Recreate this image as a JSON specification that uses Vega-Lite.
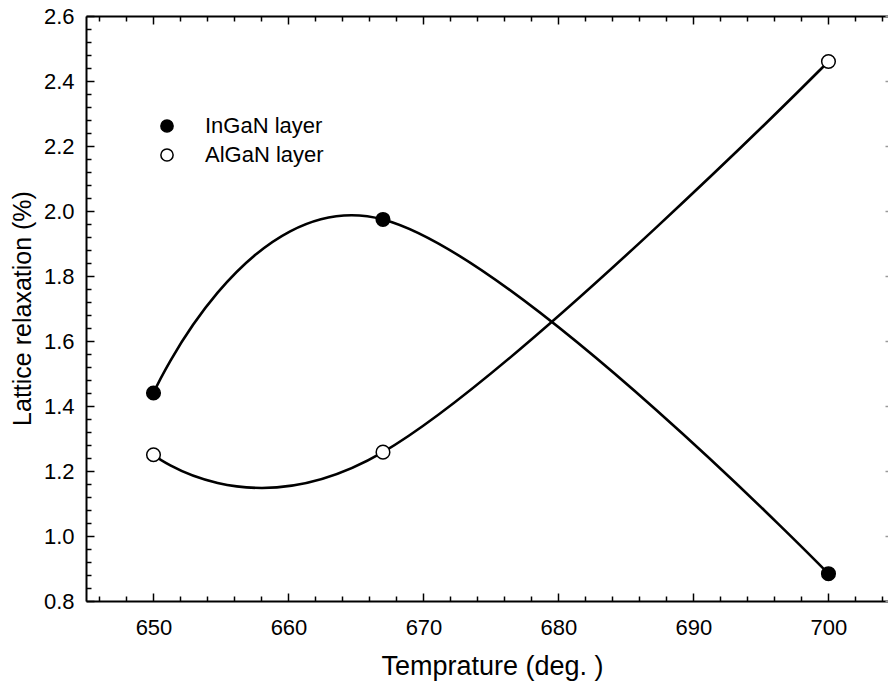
{
  "$schema": "https://vega.github.io/schema/vega-lite/v6.json",
  "autosize": "none",
  "width": 802,
  "height": 585,
  "padding": {"left": 86, "top": 16, "right": 0, "bottom": 80},
  "background": "white",
  "config": {
    "view": {"stroke": null},
    "font": "Liberation Sans",
    "axis": {
      "grid": false,
      "domainColor": "black",
      "domainWidth": 2,
      "tickColor": "black",
      "tickWidth": 1.5,
      "labelColor": "black",
      "titleColor": "black",
      "labelFont": "Liberation Sans",
      "titleFont": "Liberation Sans",
      "titleFontWeight": "normal",
      "labelFontSize": 22,
      "titleFontSize": 25
    },
    "legend": {"labelFont": "Liberation Sans"}
  },
  "data": {
    "values": [
      {"t": 650, "v": 1.44, "s": "InGaN layer"},
      {"t": 667, "v": 1.974, "s": "InGaN layer"},
      {"t": 700, "v": 0.884, "s": "InGaN layer"},
      {"t": 650, "v": 1.25, "s": "AlGaN layer"},
      {"t": 667, "v": 1.258, "s": "AlGaN layer"},
      {"t": 700, "v": 2.46, "s": "AlGaN layer"}
    ]
  },
  "resolve": {"axis": {"x": "independent", "y": "independent"}},
  "layer": [
    {
      "mark": {"type": "line", "interpolate": "cardinal", "tension": -0.2, "color": "black", "strokeWidth": 2.6},
      "encoding": {
        "x": {"field": "t", "type": "quantitative", "scale": {"domain": [645, 704.41], "nice": false, "zero": false},
          "axis": {"orient": "bottom", "values": [650, 660, 670, 680, 690, 700], "tickSize": -8, "labelPadding": 24, "title": "Temprature (deg. )", "titleFontSize": 27, "titleBaseline": "alphabetic", "titleAlign": "center", "titleX": 406, "titleY": 73}},
        "y": {"field": "v", "type": "quantitative", "scale": {"domain": [0.8, 2.6], "nice": false, "zero": false},
          "axis": {"orient": "left", "values": [0.8, 1.0, 1.2, 1.4, 1.6, 1.8, 2.0, 2.2, 2.4, 2.6], "format": ".1f", "tickSize": -8, "labelPadding": 20, "title": "Lattice relaxation (%)", "titleFontSize": 25, "titleBaseline": "alphabetic", "titleAlign": "center", "titleAngle": -90, "titleX": -56, "titleY": 292}},
        "detail": {"field": "s", "type": "nominal"}
      }
    },
    {
      "mark": {"type": "point", "shape": "circle", "filled": true, "stroke": "black", "strokeWidth": 1.5, "size": 185, "opacity": 1},
      "encoding": {
        "x": {"field": "t", "type": "quantitative", "axis": null},
        "y": {"field": "v", "type": "quantitative", "axis": null},
        "fill": {"field": "s", "type": "nominal",
          "scale": {"domain": ["InGaN layer", "AlGaN layer"], "range": ["black", "white"]},
          "legend": {"title": null, "orient": "none", "legendX": 70, "legendY": 99, "symbolType": "circle", "symbolSize": 150, "symbolStrokeColor": "black", "symbolStrokeWidth": 1.5, "labelFontSize": 22, "labelColor": "black", "labelOffset": 27, "rowPadding": 7, "padding": 0}}
      }
    },
    {
      "mark": {"type": "point", "opacity": 0},
      "encoding": {
        "x": {"field": "t", "type": "quantitative",
          "axis": {"orient": "bottom", "values": [646, 648, 652, 654, 656, 658, 662, 664, 666, 668, 672, 674, 676, 678, 682, 684, 686, 688, 692, 694, 696, 698, 702, 704], "tickSize": -5, "labels": false, "domain": false, "title": null}},
        "y": {"field": "v", "type": "quantitative",
          "axis": {"orient": "left", "values": [0.84, 0.88, 0.92, 0.96, 1.04, 1.08, 1.12, 1.16, 1.24, 1.28, 1.32, 1.36, 1.44, 1.48, 1.52, 1.56, 1.64, 1.68, 1.72, 1.76, 1.84, 1.88, 1.92, 1.96, 2.04, 2.08, 2.12, 2.16, 2.24, 2.28, 2.32, 2.36, 2.44, 2.48, 2.52, 2.56], "tickSize": -5, "labels": false, "domain": false, "title": null}}
      }
    },
    {
      "mark": {"type": "point", "opacity": 0},
      "encoding": {
        "x": {"field": "t", "type": "quantitative",
          "axis": {"orient": "top", "values": [650, 660, 670, 680, 690, 700], "tickSize": -8, "labels": false, "title": null}},
        "y": {"field": "v", "type": "quantitative",
          "axis": {"orient": "right", "offset": 5, "values": [0.8, 1.0, 1.2, 1.4, 1.6, 1.8, 2.0, 2.2, 2.4, 2.6], "tickSize": -8, "labels": false, "domain": false, "title": null, "tickColor": "#999999"}}
      }
    },
    {
      "mark": {"type": "point", "opacity": 0},
      "encoding": {
        "x": {"field": "t", "type": "quantitative",
          "axis": {"orient": "top", "values": [646, 648, 652, 654, 656, 658, 662, 664, 666, 668, 672, 674, 676, 678, 682, 684, 686, 688, 692, 694, 696, 698, 702, 704], "tickSize": -5, "labels": false, "domain": false, "title": null}}
      }
    }
  ]
}
